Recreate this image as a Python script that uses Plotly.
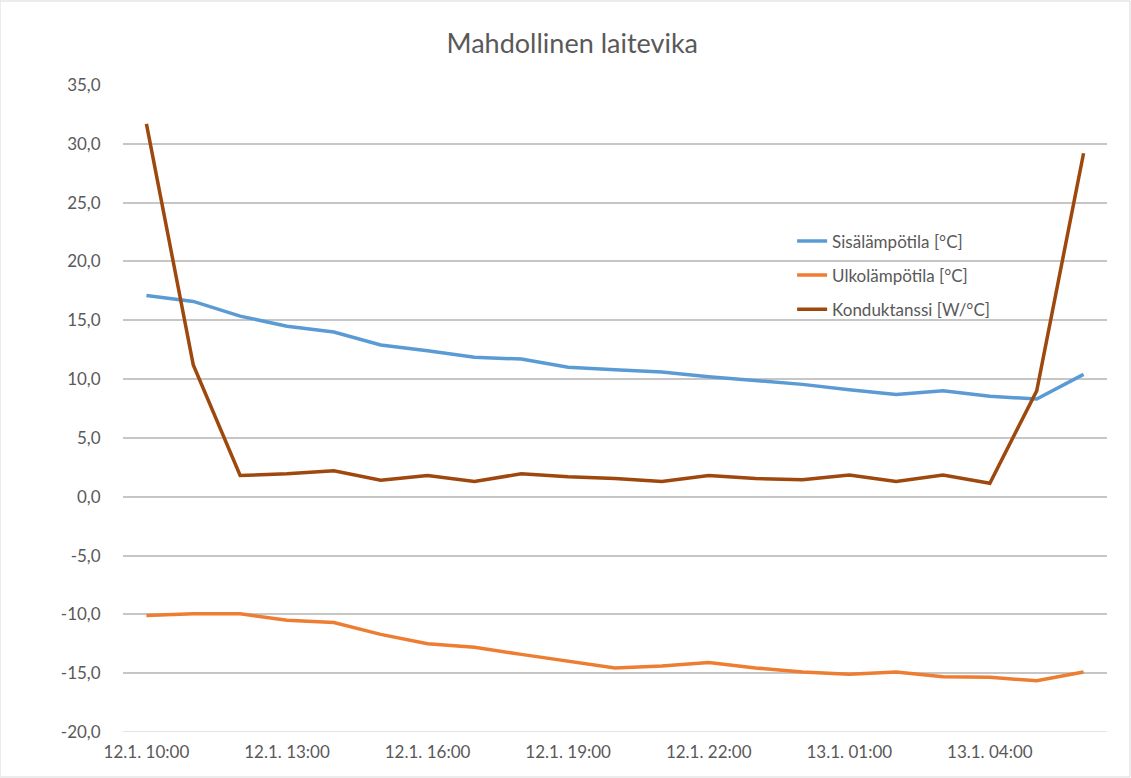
import plotly.graph_objects as go

# Hourly timestamps from 12.1. 10:00 to 13.1. 06:00
hours = [f"12.1. {h:02d}:00" for h in range(10, 24)] + [f"13.1. {h:02d}:00" for h in range(0, 7)]
tick_labels = hours[::3]
y_ticks = [-20, -15, -10, -5, 0, 5, 10, 15, 20, 25, 30, 35]

sisa = [17.1, 16.6, 15.35, 14.5, 14.0, 12.9, 12.4, 11.85, 11.7, 11.0, 10.8,
        10.6, 10.2, 9.9, 9.55, 9.1, 8.7, 9.0, 8.55, 8.3, 10.4]
ulko = [-10.1, -9.95, -9.95, -10.5, -10.7, -11.7, -12.5, -12.8, -13.4, -14.0, -14.55,
        -14.4, -14.1, -14.55, -14.9, -15.1, -14.9, -15.3, -15.35, -15.65, -14.9]
konduktanssi = [31.7, 11.2, 1.8, 1.95, 2.2, 1.4, 1.8, 1.3, 1.95, 1.7, 1.55,
                1.3, 1.8, 1.55, 1.45, 1.85, 1.3, 1.85, 1.15, 9.0, 29.2]

series = [
    ("Sisälämpötila [°C]", sisa, "#5B9BD5"),
    ("Ulkolämpötila [°C]", ulko, "#ED7D31"),
    ("Konduktanssi [W/°C]", konduktanssi, "#9E480E"),
]

fig = go.Figure()
for i, (name, vals, color) in enumerate(series):
    fig.add_trace(go.Scatter(
        x=hours, y=vals, name=name, mode="lines",
        line=dict(color=color, width=3.5),
        legendgroup=f"g{i}",
    ))

font_family = "Lato, 'Open Sans', sans-serif"
text_color = "#595959"

# Finnish number format with comma decimal and plain hyphen minus
y_tick_text = [f"{v:.1f}".replace(".", ",") for v in y_ticks]

fig.update_layout(
    width=1131, height=778,
    margin=dict(l=123, r=24, t=85, b=46),
    paper_bgcolor="white", plot_bgcolor="white",
    font=dict(family=font_family, size=17, color=text_color),
    title=dict(text="Mahdollinen laitevika", x=0.506, xanchor="center",
               y=0.944, yanchor="middle",
               font=dict(size=27, color=text_color, family=font_family)),
    showlegend=True,
    legend=dict(x=0.68, y=0.786, xanchor="left", yanchor="top",
                bgcolor="rgba(0,0,0,0)", tracegroupgap=9,
                font=dict(size=17, color=text_color)),
    xaxis=dict(
        type="category", range=[-0.5, 20.5],
        tickmode="array", tickvals=tick_labels, ticktext=tick_labels,
        showgrid=False, showline=False, zeroline=False,
        ticks="outside", ticklen=5, tickcolor="rgba(0,0,0,0)",
        tickfont=dict(size=17, color=text_color),
    ),
    yaxis=dict(
        range=[-20, 35], tickmode="array", tickvals=y_ticks, ticktext=y_tick_text,
        showgrid=True, gridcolor="#C6C6C6", gridwidth=2,
        zeroline=False, showline=False,
        ticks="outside", ticklen=18, tickcolor="rgba(0,0,0,0)",
        tickfont=dict(size=17, color=text_color),
    ),
    shapes=[
        # light axis line along the bottom of the plot
        dict(type="line", xref="paper", yref="y", x0=0, x1=1, y0=-20, y1=-20,
             line=dict(color="#D9D9D9", width=1.5), layer="above"),
        # chart area border
        dict(type="rect", xref="paper", yref="paper",
             x0=-123/984, x1=1 + 23/984, y0=-45/647, y1=1 + 84/647,
             line=dict(color="#D9D9D9", width=1)),
    ],
)

fig.write_html("out.html")
